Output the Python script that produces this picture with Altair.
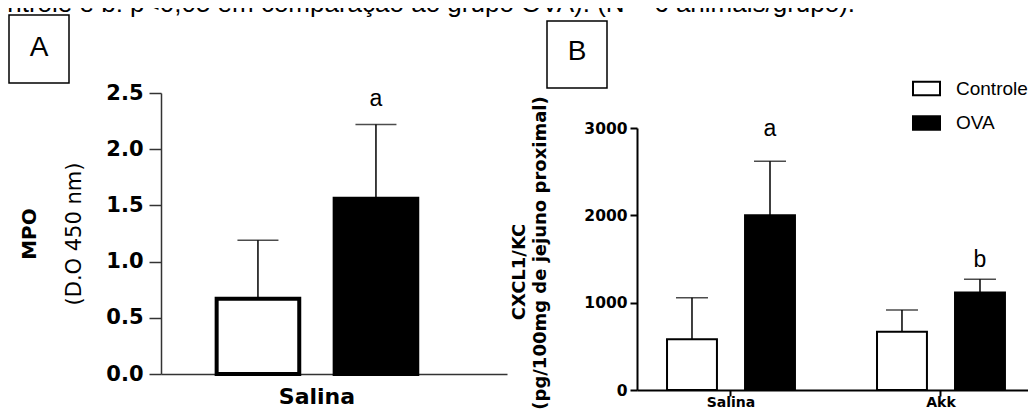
import altair as alt
import pandas as pd

# ---------------- data ----------------
grupos = ["Controle", "OVA"]

# Painel A - MPO
mpo_trat = ["Salina", "Salina"]
mpo_grupo = ["Controle", "OVA"]
mpo_media = [0.67, 1.56]
mpo_epm = [0.52, 0.66]
mpo_letra = ["", "a"]
mpo_ticks = [0.0, 0.5, 1.0, 1.5, 2.0, 2.5]

# Painel B - CXCL1/KC
cx_trat = ["Salina", "Salina", "Akk", "Akk"]
cx_grupo = ["Controle", "OVA", "Controle", "OVA"]
cx_media = [580, 2000, 667, 1117]
cx_epm = [476, 619, 248, 152]
cx_letra = ["", "a", "", "b"]
cx_ticks = [0, 1000, 2000, 3000]
cx_categorias = ["Salina", "Akk"]

legenda = "Controle e b: p<0,05 em comparação ao grupo OVA). (N = 6 animais/grupo)."

dfA = pd.DataFrame({"trat": mpo_trat, "grupo": mpo_grupo, "media": mpo_media,
                    "epm": mpo_epm, "letra": mpo_letra})
dfA["sup"] = dfA["media"] + dfA["epm"]
dfB = pd.DataFrame({"trat": cx_trat, "grupo": cx_grupo, "media": cx_media,
                    "epm": cx_epm, "letra": cx_letra})
dfB["sup"] = dfB["media"] + dfB["epm"]
one = pd.DataFrame({"k": [0]})

fill_scale = alt.Scale(domain=grupos, range=["white", "black"])
legenda_fill = alt.Legend(
    orient="none", legendX=751, legendY=-19, title=None,
    symbolType="M-1,-0.5L1,-0.5L1,0.5L-1,0.5Z", symbolSize=729,
    symbolStrokeColor="black", symbolStrokeWidth=2,
    labelFont="Liberation Sans", labelFontSize=19, labelColor="black",
    labelOffset=15, rowPadding=8.5, padding=0, labelLimit=0,
)
fill = alt.Fill("grupo:N", scale=fill_scale, legend=legenda_fill)


# ---------------- helpers for annotations ----------------
def texto(t, x, y, size, weight="normal", angle=0, font="DejaVu Sans",
          align="center", baseline="middle"):
    return alt.Chart(one).mark_text(
        text=t, font=font, fontSize=size, fontWeight=weight, angle=angle,
        align=align, baseline=baseline, color="black",
    ).encode(x=alt.value(x), y=alt.value(y))


def caixa(x1, x2, y1, y2):
    return alt.Chart(one).mark_rect(
        fill="transparent", stroke="black", strokeWidth=1.5,
    ).encode(x=alt.value(x1), x2=alt.value(x2), y=alt.value(y1), y2=alt.value(y2))


# ---------------- Panel A ----------------
WA, HA = 346, 281
xA = alt.Scale(domain=["Salina"], paddingInner=0, paddingOuter=0.233, align=0.345)
xoA = alt.Scale(domain=grupos, paddingInner=0.3, paddingOuter=0.15)
yA = alt.Scale(domain=[0, 2.5], nice=False)

axA_x = alt.Axis(title=None, ticks=False, domainColor="#333333",
                 domainWidth=1.5, labelAngle=0, labelFont="DejaVu Sans",
                 labelFontWeight="bold", labelFontSize=22, labelColor="black",
                 labelPadding=12)
axA_y = alt.Axis(values=mpo_ticks, format=".1f", title=None, grid=False,
                 domainColor="#333333", domainWidth=1.5, tickColor="#333333",
                 tickWidth=1.5, tickSize=12, labelFont="DejaVu Sans",
                 labelFontWeight="bold", labelFontSize=21, labelColor="black",
                 labelPadding=6)

encA = dict(
    x=alt.X("trat:N", scale=xA, axis=axA_x),
    xOffset=alt.XOffset("grupo:N", scale=xoA),
)
baseA = alt.Chart(dfA)
barsA = baseA.mark_bar(stroke="black", strokeWidth=4).encode(
    y=alt.Y("media:Q", scale=yA, axis=axA_y), fill=fill, **encA)
errA = baseA.mark_rule(color="black", strokeWidth=1.5).encode(
    y=alt.Y("media:Q", scale=yA, axis=axA_y), y2="sup:Q", **encA)
capA = baseA.mark_tick(color="black", thickness=1.5, size=41,
                       orient="horizontal").encode(
    y=alt.Y("sup:Q", scale=yA, axis=axA_y), **encA)
letA = baseA.mark_text(dy=-18, baseline="alphabetic", align="center",
                       font="Liberation Sans", fontSize=23,
                       color="black").encode(
    y=alt.Y("sup:Q", scale=yA, axis=axA_y), text="letra:N", **encA)

panelA = alt.layer(
    barsA, errA, capA, letA,
    texto(legenda, -187, -81, 26, font="Liberation Sans", align="left",
          baseline="alphabetic"),
    caixa(-152, -92, -78, -10),
    texto("A", -122, -45, 28, font="Liberation Sans"),
    texto("MPO", -131, 141, 20, weight="bold", angle=270),
    texto("(D.O 450 nm)", -86, 141, 21, angle=270),
).properties(width=WA, height=HA)

# ---------------- Panel B ----------------
WB, HB = 396, 297
xB = alt.Scale(domain=cx_categorias, paddingInner=0.257, paddingOuter=0.0714,
               align=0.533)
xoB = alt.Scale(domain=grupos, paddingInner=0.36, paddingOuter=0.18)
yB = alt.Scale(domain=[0, 3000], range=[297, 35], nice=False)

axB_x = alt.Axis(title=None, tickSize=6, tickWidth=2, tickColor="black",
                 domainColor="black", domainWidth=2, labelAngle=0,
                 labelFont="DejaVu Sans", labelFontWeight="bold",
                 labelFontSize=14, labelColor="black", labelPadding=-1)
axB_y = alt.Axis(values=cx_ticks, format="d", title=None, grid=False,
                 domainColor="black", domainWidth=2, tickColor="black",
                 tickWidth=2, tickSize=7, labelFont="DejaVu Sans",
                 labelFontWeight="bold", labelFontSize=15.5,
                 labelColor="black", labelPadding=3)

encB = dict(
    x=alt.X("trat:N", scale=xB, axis=axB_x),
    xOffset=alt.XOffset("grupo:N", scale=xoB),
)
baseB = alt.Chart(dfB)
barsB = baseB.mark_bar(stroke="black", strokeWidth=2).encode(
    y=alt.Y("media:Q", scale=yB, axis=axB_y), fill=fill, **encB)
errB = baseB.mark_rule(color="black", strokeWidth=1.5).encode(
    y=alt.Y("media:Q", scale=yB, axis=axB_y), y2="sup:Q", **encB)
capB = baseB.mark_tick(color="black", thickness=1.5, size=32,
                       orient="horizontal").encode(
    y=alt.Y("sup:Q", scale=yB, axis=axB_y), **encB)


def letra_b(valor, dy):
    return baseB.transform_filter(alt.datum.letra == valor).mark_text(
        dy=dy, baseline="alphabetic", align="center",
        font="Liberation Sans", fontSize=23, color="black").encode(
        y=alt.Y("sup:Q", scale=yB, axis=axB_y), text="letra:N", **encB)


panelB = alt.layer(
    barsB, errB, capB, letra_b("a", -25), letra_b("b", -12),
    caixa(-90, -30, -72, -5),
    texto("B", -60, -41, 28, font="Liberation Sans"),
    texto("CXCL1/KC", -117, 179, 18, weight="bold", angle=270),
    texto("(pg/100mg de jejuno proximal)", -96, 160, 18, weight="bold",
          angle=270),
).properties(width=WB, height=HB)

chart = alt.hconcat(panelA, panelB, spacing=130, bounds="flush").resolve_scale(
    xOffset="independent"
).properties(
    padding={"left": 153, "top": 85, "right": 867, "bottom": 318},
    autosize=alt.AutoSizeParams(type="none"),
).configure_view(stroke=None)

chart.save("out.html", embed_options={"renderer": "svg", "actions": False})
